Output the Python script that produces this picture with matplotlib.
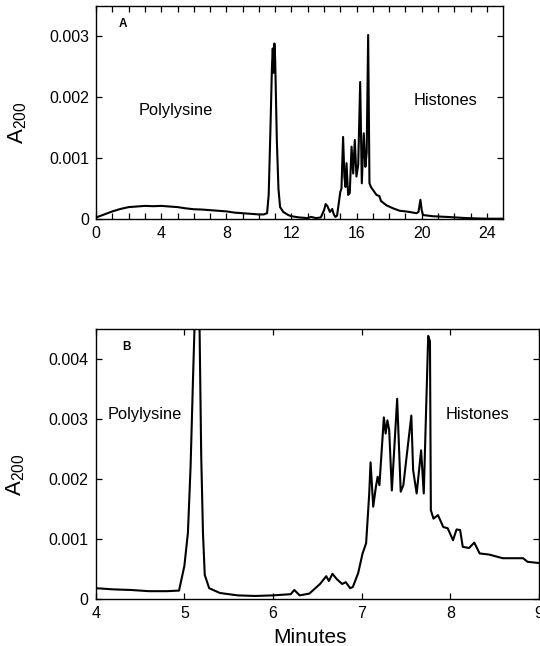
import matplotlib
matplotlib.use('Agg')
import matplotlib.pyplot as plt

plt.rcParams['font.family'] = ['Liberation Sans', 'DejaVu Sans']

# panel A: full run, 0-25 min
tA = [0, 0.3, 0.6, 1.0, 1.5, 2.0, 2.5, 3.0, 3.5, 4.0, 4.5, 5.0, 5.5, 6.0, 6.5,
      7.0, 7.5, 8.0, 8.5, 9.0, 9.5, 10.0, 10.3, 10.5, 10.6, 10.7, 10.8, 10.85,
      10.9, 10.95, 11.0, 11.1, 11.2, 11.3, 11.5, 11.8, 12.0, 12.5, 13.0, 13.2,
      13.5, 13.8, 14.0, 14.1, 14.2, 14.36, 14.5, 14.6, 14.7, 14.8, 15.0, 15.07,
      15.17, 15.25, 15.32, 15.38, 15.48, 15.58, 15.69, 15.79, 15.89, 15.99,
      16.1, 16.22, 16.32, 16.44, 16.54, 16.62, 16.71, 16.79, 16.9, 17.01, 17.22,
      17.4, 17.5, 17.83, 18.24, 18.65, 19.0, 19.26, 19.67, 19.8, 19.92, 20.0,
      20.08, 20.7, 21.5, 22.74, 24.0, 25.0]
absA = [0.00003, 0.00006, 0.00009, 0.00013, 0.00017, 0.0002, 0.00021, 0.00022,
        0.000215, 0.00022, 0.00021, 0.0002, 0.00018, 0.000165, 0.00016,
        0.00015, 0.00014, 0.00013, 0.00011, 0.0001, 0.00009, 0.00008, 0.00008,
        0.0001, 0.0004, 0.0014, 0.0025, 0.0028, 0.0024, 0.00288, 0.0026,
        0.0013, 0.0005, 0.0002, 0.00012, 0.00007, 0.00005, 0.00003, 0.00002,
        0.00004, 0.00002, 0.00003, 0.00015, 0.00025, 0.00022, 0.00012,
        0.00017, 0.00008, 0.00004, 0.00006, 0.00045, 0.0005, 0.00135, 0.0007,
        0.00053, 0.00092, 0.0004, 0.00043, 0.00119, 0.00075, 0.0013, 0.0007,
        0.0009, 0.00225, 0.00059, 0.00141, 0.00086, 0.0011, 0.00302, 0.00059,
        0.00052, 0.00048, 0.0004, 0.00038, 0.0003, 0.00023, 0.00018, 0.00014,
        0.00013, 0.00012, 0.0001, 0.00012, 0.00032, 0.00015, 0.00007, 0.00005,
        0.00004, 0.00002, 0.00001, 0.00001]

# panel B: expanded run, 4-9 min
tB = [4.0, 4.2, 4.4, 4.6, 4.8, 4.94, 5.0, 5.04, 5.07, 5.1, 5.12, 5.15, 5.17,
      5.19, 5.21, 5.23, 5.28, 5.4, 5.6, 5.8, 6.0, 6.2, 6.24, 6.3, 6.41, 6.53,
      6.6, 6.63, 6.67, 6.72, 6.78, 6.82, 6.87, 6.9, 6.96, 7.01, 7.05, 7.085,
      7.1, 7.13, 7.16, 7.18, 7.2, 7.25, 7.27, 7.29, 7.31, 7.34, 7.4, 7.44,
      7.47, 7.51, 7.56, 7.58, 7.62, 7.67, 7.7, 7.75, 7.77, 7.78, 7.81, 7.86,
      7.92, 7.97, 8.03, 8.07, 8.11, 8.14, 8.21, 8.27, 8.33, 8.44, 8.59, 8.73,
      8.82, 8.87, 9.0]
absB = [0.00018, 0.00016, 0.00015, 0.00013, 0.00013, 0.00014, 0.00055,
        0.0011, 0.0022, 0.0038, 0.0048, 0.0058, 0.0047, 0.0024, 0.0011,
        0.0004, 0.00018, 0.0001, 0.00006, 0.00005, 0.00006, 0.00008, 0.00015,
        0.00006, 0.00009, 0.00025, 0.00038, 0.0003, 0.00042, 0.00033, 0.00025,
        0.00028, 0.00018, 0.0002, 0.00043, 0.00076, 0.00093, 0.00176, 0.00228,
        0.00154, 0.00187, 0.00204, 0.0019, 0.00303, 0.00276, 0.00298, 0.00282,
        0.00181, 0.00334, 0.00179, 0.0019, 0.00242, 0.00306, 0.00215, 0.00176,
        0.00248, 0.00176, 0.00439, 0.0043, 0.00148, 0.00134, 0.0014, 0.0012,
        0.00118, 0.00098, 0.00116, 0.00115, 0.00087, 0.00085, 0.00094,
        0.00076, 0.00074, 0.00068, 0.00068, 0.00068, 0.00062, 0.0006]

ticksA_x = [0, 4, 8, 12, 16, 20, 24]
ticksA_y = [0, 0.001, 0.002, 0.003]
ticksB_x = [4, 5, 6, 7, 8, 9]
ticksB_y = [0, 0.001, 0.002, 0.003, 0.004]

fig = plt.figure(figsize=(5.4, 6.46), dpi=100)
axA = fig.add_axes([0.178, 0.6605, 0.7537, 0.3307])
axB = fig.add_axes([0.1772, 0.0728, 0.821, 0.4175])


def estilo(ax):
    for s in ax.spines.values():
        s.set_linewidth(1.0)
    ax.tick_params(direction='in', top=True, right=True, length=4,
                   width=0.9, labelsize=11.5, pad=5)
    ax.tick_params(which='minor', direction='in', top=True, right=True,
                   length=4, width=0.9)


# grafico A
axA.plot(tA, absA, color='black', lw=1.5)
axA.set_xlim(0, 25)
axA.set_ylim(0, 0.0035)
axA.set_xticks(ticksA_x)
axA.set_xticks(range(0, 25), minor=True)
axA.set_yticks(ticksA_y)
axA.set_yticklabels(['0', '0.001', '0.002', '0.003'])
estilo(axA)
axA.set_ylabel(r'$\mathregular{A_{200}}$', fontsize=16)
axA.yaxis.set_label_coords(-0.165, 0.45)
axA.text(1.4, 0.0032, 'A', fontsize=8.5, fontweight='bold', va='center')
axA.text(4.9, 0.00179, 'Polylysine', fontsize=11.8, ha='center', va='center')
axA.text(21.45, 0.00194, 'Histones', fontsize=11.8, ha='center', va='center')

# grafico B
axB.plot(tB, absB, color='black', lw=1.5)
axB.set_xlim(4, 9)
axB.set_ylim(0, 0.0045)
axB.set_xticks(ticksB_x)
axB.set_yticks(ticksB_y)
axB.set_yticklabels(['0', '0.001', '0.002', '0.003', '0.004'])
estilo(axB)
axB.set_ylabel(r'$\mathregular{A_{200}}$', fontsize=16)
axB.yaxis.set_label_coords(-0.155, 0.46)
axB.set_xlabel('Minutes', fontsize=15)
axB.xaxis.set_label_coords(0.483, -0.142)
axB.xaxis.label.set_va('center')
axB.text(4.3, 0.0042, 'B', fontsize=8.5, fontweight='bold', va='center')
axB.text(4.55, 0.00307, 'Polylysine', fontsize=11.8, ha='center', va='center')
axB.text(8.31, 0.00308, 'Histones', fontsize=11.8, ha='center', va='center')

plt.savefig('out.png', dpi=100)
